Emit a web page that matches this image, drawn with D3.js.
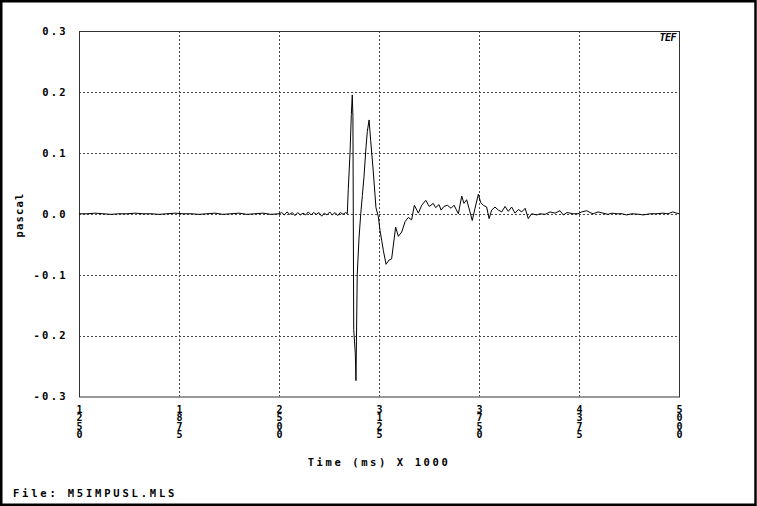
<!DOCTYPE html>
<html>
<head>
<meta charset="utf-8">
<script src="https://cdn.jsdelivr.net/npm/d3@7"></script>
<style>
  html, body { margin: 0; padding: 0; background: #fff; }
  svg { display: block; }
  text { font-family: "DejaVu Sans Mono", monospace; font-weight: bold; fill: #000; }
</style>
</head>
<body>
<div id="chart"></div>
<script>
// Impulse response, time in ms, pressure in pascal
const times = [
  1250, 1300, 1350, 1400, 1450, 1500, 1550, 1600, 1650, 1700, 1750, 1800, 1850,
  1900, 1950, 2000, 2050, 2100, 2150, 2200, 2250, 2300, 2350, 2400, 2450,
  2500, 2517, 2533, 2550, 2567, 2583, 2600, 2617, 2633, 2650, 2667, 2683, 2700,
  2717, 2733, 2750, 2767, 2783, 2800, 2817, 2833, 2850, 2867, 2883, 2900, 2917,
  2927, 2933, 2944, 2952, 2958, 2962, 2967, 2977, 2981, 2989, 3000, 3011, 3021,
  3031, 3044, 3052, 3063, 3073, 3089, 3106, 3121, 3131, 3142, 3152, 3169, 3188,
  3204, 3229, 3246, 3267, 3288, 3308, 3329, 3346, 3371, 3392, 3417, 3439, 3464,
  3479, 3500, 3513, 3531, 3552, 3575, 3594, 3621, 3642, 3656, 3673, 3708, 3725,
  3746, 3761, 3777, 3798, 3813, 3829, 3850, 3871, 3892, 3913, 3933, 3954, 3975,
  3996, 4017, 4038, 4058, 4079, 4111, 4131, 4163, 4194, 4225, 4256, 4277, 4300,
  4338, 4369, 4392, 4423, 4444, 4463, 4494, 4525, 4556, 4581, 4613, 4644, 4673,
  4706, 4756, 4775, 4819, 4856, 4900, 4931, 4961, 4986, 5000
];
const values = [
  0, 0, 0.001, 0, -0.001, 0, 0, 0.001, 0, 0, -0.001, 0, 0.001,
  0, 0, -0.001, 0, 0.001, -0.001, 0, 0.001, -0.001, 0, 0.001, -0.001,
  0, 0.002, -0.002, 0.003, -0.001, 0.002, -0.003, 0.002, -0.002, 0.001, -0.002, 0.003, -0.002,
  0.002, -0.001, 0.002, -0.004, 0.001, -0.002, 0.003, -0.002, 0.002, -0.003, 0.002, -0.001, 0.002,
  0.000, 0.040, 0.100, 0.163, 0.195, 0.160, -0.190, -0.230, -0.274, -0.100, -0.040, 0.000, 0.030,
  0.060, 0.110, 0.135, 0.154, 0.120, 0.070, 0.010, -0.005, -0.027, -0.044, -0.060, -0.083, -0.076,
  -0.074, -0.022, -0.037, -0.030, -0.013, -0.006, -0.010, 0.014, 0.001, 0.014, 0.022, 0.012, 0.017,
  0.010, 0.015, 0.006, 0.012, 0.014, 0.009, 0.014, 0.000, 0.029, 0.017, 0.023, -0.011, 0.009,
  0.032, 0.018, 0.014, 0.011, -0.008, 0.006, 0.011, 0.006, 0.003, 0.012, 0.004, 0.011, 0.001,
  0.007, 0.003, 0.009, -0.008, 0.000, -0.002, 0.000, -0.001, 0.003, 0.001, 0.005, -0.002, 0.002,
  0.000, 0.000, 0.003, 0.005, 0.002, 0.000, 0.003, 0.001, -0.001, 0.001, 0.000, 0.000, -0.002,
  0.000, -0.001, -0.002, 0.000, 0.000, 0.001, 0.000, 0.003, 0.001, 0.000
];
const xTicks = [1250, 1875, 2500, 3125, 3750, 4375, 5000];
const xTickLabels = ['1250', '1875', '2500', '3125', '3750', '4375', '5000'];
const yTicks = [0.3, 0.2, 0.1, 0.0, -0.1, -0.2, -0.3];
const yTickLabels = ['0.3', '0.2', '0.1', '0.0', '-0.1', '-0.2', '-0.3'];

(function() {
    const width = 757, height = 506;
    const plot = { left: 79, right: 679, top: 31, bottom: 396.5 };

    const svg = d3.select('#chart').append('svg')
        .attr('width', width)
        .attr('height', height);

    // outer frame
    svg.append('rect')
        .attr('x', 1.25).attr('y', 1.25)
        .attr('width', 754.25).attr('height', 503.5)
        .attr('fill', 'none')
        .attr('stroke', '#000')
        .attr('stroke-width', 2.5);

    const x = d3.scaleLinear().domain([1250, 5000]).range([plot.left, plot.right]);
    const y = d3.scaleLinear().domain([-0.3, 0.3]).range([plot.bottom, plot.top]);

    // grid (dotted)
    svg.append('g').selectAll('line')
        .data(xTicks.slice(1, -1))
        .enter().append('line')
        .attr('x1', d => Math.round(x(d)) + 0.5).attr('x2', d => Math.round(x(d)) + 0.5)
        .attr('y1', plot.top).attr('y2', plot.bottom)
        .attr('stroke', '#444')
        .attr('stroke-dasharray', '2,2');

    svg.append('g').selectAll('line')
        .data(yTicks.slice(1, -1))
        .enter().append('line')
        .attr('x1', plot.left).attr('x2', plot.right)
        .attr('y1', d => Math.round(y(d)) + 0.5).attr('y2', d => Math.round(y(d)) + 0.5)
        .attr('stroke', '#444')
        .attr('stroke-dasharray', '2,2');

    // plot border
    svg.append('rect')
        .attr('x', plot.left + 0.5).attr('y', plot.top + 0.5)
        .attr('width', plot.right - plot.left).attr('height', plot.bottom - plot.top)
        .attr('fill', 'none')
        .attr('stroke', '#333')
        .attr('stroke-width', 1);

    // y axis labels
    const yAxis = d3.axisLeft(y)
        .tickValues(yTicks)
        .tickSize(0)
        .tickPadding(11)
        .tickFormat((d, i) => yTickLabels[i]);

    const ya = svg.append('g')
        .attr('transform', `translate(${plot.left},0)`)
        .call(yAxis);
    ya.select('.domain').remove();
    ya.selectAll('text')
        .attr('font-family', '"DejaVu Sans Mono", monospace')
        .attr('font-weight', 'bold')
        .attr('font-size', '10.5px')
        .attr('letter-spacing', '2.3px')
        .attr('fill', '#000');

    // x axis labels, digits stacked vertically
    const xa = svg.append('g');
    xTicks.forEach(function(t, i) {
        const txt = xa.append('text')
            .attr('text-anchor', 'middle')
            .attr('font-size', '10px');
        xTickLabels[i].split('').forEach(function(ch, j) {
            txt.append('tspan')
                .attr('x', x(t) + 0.5)
                .attr('y', 413 + j * 8.4)
                .text(ch);
        });
    });

    // axis titles
    svg.append('text')
        .attr('x', 379).attr('y', 466)
        .attr('text-anchor', 'middle')
        .attr('font-size', '10.5px')
        .attr('letter-spacing', '2.6px')
        .text('Time (ms) X 1000');

    svg.append('text')
        .attr('transform', 'translate(23,215) rotate(-90)')
        .attr('text-anchor', 'middle')
        .attr('font-size', '10.5px')
        .attr('letter-spacing', '1.2px')
        .text('pascal');

    svg.append('text')
        .attr('x', 13).attr('y', 497)
        .attr('font-size', '10.5px')
        .attr('letter-spacing', '2.8px')
        .text('File: M5IMPUSL.MLS');

    // TEF logo
    svg.append('text')
        .attr('x', 676).attr('y', 41)
        .attr('text-anchor', 'end')
        .attr('font-size', '10px')
        .attr('font-style', 'italic')
        .attr('letter-spacing', '-0.5px')
        .text('TEF');

    // trace
    const line = d3.line()
        .x((d, i) => x(times[i]))
        .y(d => y(d));

    svg.append('path')
        .datum(values)
        .attr('d', line)
        .attr('fill', 'none')
        .attr('stroke', '#000')
        .attr('stroke-width', 1);
})();
</script>
</body>
</html>
